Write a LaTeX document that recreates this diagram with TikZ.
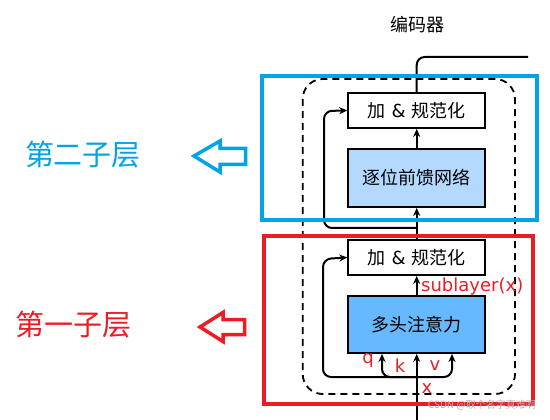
\documentclass[tikz,border=0pt]{standalone}
\usepackage{fontspec}
\setmainfont{DejaVu Sans}
\newfontfamily\cjk{Noto Sans CJK SC}
\usetikzlibrary{arrows.meta}
\definecolor{bluehi}{HTML}{00A2E8}
\definecolor{redhi}{HTML}{ED1C24}
\definecolor{ffnfill}{HTML}{B3D9FF}
\definecolor{mhafill}{HTML}{66B8FF}
\tikzset{
  blk/.style={draw=black, line width=1.8pt, minimum width=137pt, inner sep=0pt, font=\fontsize{18}{18}\selectfont},
  conn/.style={line width=2pt, rounded corners=8pt},
  arr/.style={conn, -{Stealth[length=8pt,width=7pt,inset=2.5pt]}},
  redlbl/.style={text=redhi, font=\fontsize{18}{18}\selectfont, inner sep=0pt},
  hollow/.style={line width=3.5pt, line join=miter}
}
\begin{document}
\begin{tikzpicture}[x=1pt,y=-1pt]
\useasboundingbox (0,0) rectangle (550,420);
% title
\node[font=\cjk\fontsize{18}{18}\selectfont] (title) at (417,25) {编码器};
% dashed encoder frame
\draw[line width=1.8pt, dash pattern=on 7pt off 5pt, rounded corners=20pt] (302.7,79) rectangle (515,394);
% boxes
\node[blk, minimum height=35pt] (an2) at (416.7,110.5) {{\cjk 加} \& {\cjk 规范化}};
\node[blk, minimum height=58pt, fill=ffnfill] (ffn) at (416.7,178) {\cjk 逐位前馈网络};
\node[blk, minimum height=35pt] (an1) at (416.7,257.5) {{\cjk 加} \& {\cjk 规范化}};
\node[blk, minimum height=57pt, fill=mhafill] (mha) at (416.7,324.5) {\cjk 多头注意力};
% coordinates
\coordinate (in) at (416.7,425);
\coordinate (split1) at (416.7,377);
\coordinate (split2) at (416.7,228);
\coordinate (out) at (528,57);
% input and branches
\draw[arr] (in) -- (mha.south);
\draw[arr] (split1) -- (382,377) -- (mha.south -| 382,0);
\draw[arr] (split1) -- (452,377) -- (mha.south -| 452,0);
\draw[arr] (split1) -- (323,377) -- (323,259) -- (an1.west);
\draw[arr] (mha.north) -- (an1.south);
\draw[arr] (an1.north) -- (ffn.south);
\draw[arr] (split2) -- (324,228) -- (324,111) -- (an2.west);
\draw[arr] (ffn.north) -- (an2.south);
\draw[conn] (an2.north) -- (416.7,57) -- (out);
% red labels
\node[redlbl, anchor=west] (sub) at (421,287) {sublayer(x)};
\node[redlbl] (q) at (368,360) {q};
\node[redlbl] (k) at (400,366) {k};
\node[redlbl] (v) at (435,366) {v};
\node[redlbl] (x) at (427,389) {x};
% highlight rectangles
\draw[bluehi, line width=4pt] (262,76) rectangle (537,220);
\draw[redhi, line width=4pt] (264,236) rectangle (533,404);
% left labels
\node[text=bluehi, font=\cjk\fontsize{29}{29}\selectfont] (l2) at (83,155) {第二子层};
\node[text=redhi, font=\cjk\fontsize{29}{29}\selectfont] (l1) at (74,325) {第一子层};
\draw[bluehi, hollow] (194,156) -- (220,141) -- (220,148.5) -- (245.5,148.5) -- (245.5,164.5) -- (220,164.5) -- (220,172) -- cycle;
\draw[redhi, hollow] (200,327) -- (223,312.5) -- (223,319.5) -- (244.5,319.5) -- (244.5,334.5) -- (223,334.5) -- (223,341.5) -- cycle;
% watermark
\node[text=black!30, font=\cjk\fontsize{10}{10}\selectfont, anchor=east, inner sep=0pt] (wm) at (536,405) {CSDN @取个名字真难啊};
\end{tikzpicture}
\end{document}
